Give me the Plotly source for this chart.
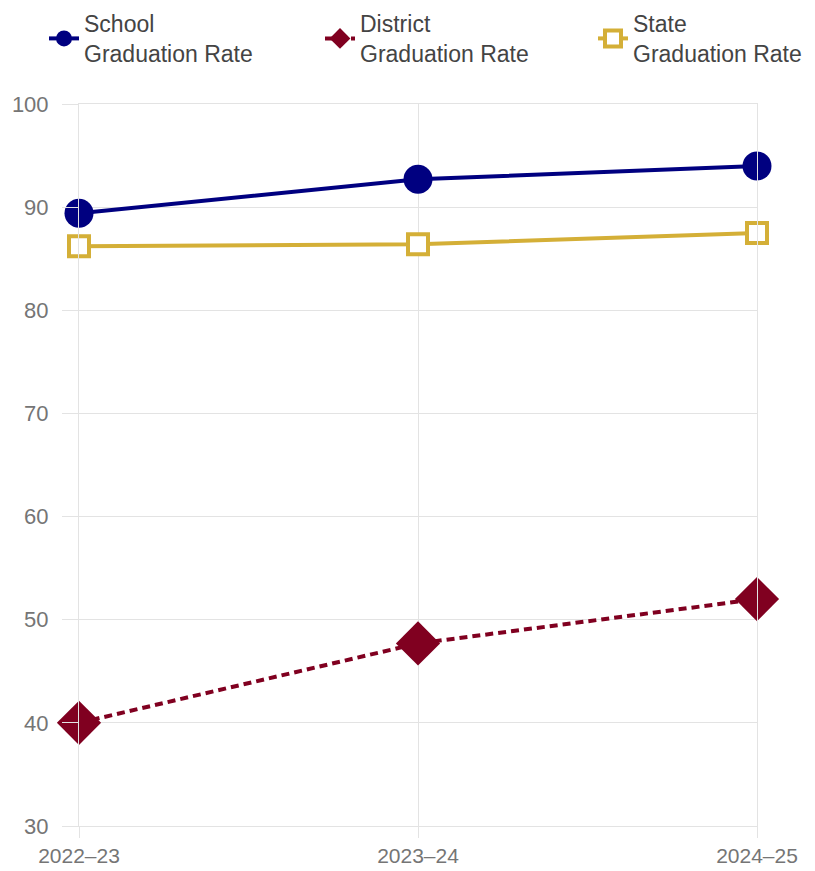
import plotly.graph_objects as go

# School-year categories on the x axis
years = ["2022\u201323", "2023\u201324", "2024\u201325"]

# Graduation rates (%)
school_rate = [89.4, 92.7, 94.0]
district_rate = [40.0, 47.7, 52.0]
state_rate = [86.2, 86.4, 87.5]

y_ticks = [30, 40, 50, 60, 70, 80, 90, 100]

xpos = list(range(len(years)))

NAVY = "#000080"
MAROON = "#800020"
GOLD = "#d4af37"
GRID = "#e3e3e3"
FONT = "Arial, Liberation Sans, sans-serif"
TICK_FONT = dict(family=FONT, size=22, color="#757575")
XTICK_FONT = dict(family=FONT, size=21, color="#757575")
LEGEND_FONT = dict(family=FONT, size=23, color="#444444")

# plot area in pixels
W, H = 815, 871
L, R, T, B = 79, 58, 104, 45
PW, PH = W - L - R, H - T - B


def paper_x(px):
    return (px - L) / PW


def paper_y(py):
    return 1 + (T - py) / PH


fig = go.Figure()

fig.add_trace(go.Scatter(
    x=xpos, y=school_rate, name="School<br>Graduation Rate",
    mode="lines+markers", cliponaxis=False, legend="legend",
    line=dict(color=NAVY, width=4),
    marker=dict(symbol="circle", size=29, color=NAVY),
))
fig.add_trace(go.Scatter(
    x=xpos, y=district_rate, name="District<br>Graduation Rate",
    mode="lines+markers", cliponaxis=False, legend="legend2",
    line=dict(color=MAROON, width=4, dash="8px,5px"),
    marker=dict(symbol="diamond", size=34, color=MAROON),
))
fig.add_trace(go.Scatter(
    x=xpos, y=state_rate, name="State<br>Graduation Rate",
    mode="lines+markers", cliponaxis=False, legend="legend3",
    line=dict(color=GOLD, width=4),
    marker=dict(symbol="square", size=20, color="white",
                line=dict(color=GOLD, width=4)),
))

legend_common = dict(
    orientation="h", xanchor="left", yanchor="top", y=paper_y(2),
    font=LEGEND_FONT, itemsizing="trace",
    bgcolor="rgba(0,0,0,0)", borderwidth=0,
)

fig.update_layout(
    width=W, height=H,
    margin=dict(l=L, r=R, t=T, b=B, autoexpand=False),
    paper_bgcolor="white", plot_bgcolor="white",
    showlegend=True,
    legend=dict(x=paper_x(44), **legend_common),
    legend2=dict(x=paper_x(320), **legend_common),
    legend3=dict(x=paper_x(593), **legend_common),
    font=dict(family=FONT),
)

fig.update_xaxes(
    range=[0, 2], tickvals=xpos, ticktext=years,
    showgrid=True, gridcolor=GRID, gridwidth=1,
    ticks="outside", ticklen=11, tickcolor=GRID,
    showline=True, linecolor=GRID, linewidth=1, mirror=True,
    zeroline=False, automargin=False,
    tickfont=XTICK_FONT,
)
fig.update_yaxes(
    range=[30, 100], tickvals=y_ticks,
    showgrid=True, gridcolor=GRID, gridwidth=1,
    ticks="outside", ticklen=16, tickcolor=GRID,
    ticklabelstandoff=9,
    showline=True, linecolor=GRID, linewidth=1, mirror=True,
    zeroline=False, automargin=False,
    tickfont=TICK_FONT,
)

fig.write_html("out.html")
